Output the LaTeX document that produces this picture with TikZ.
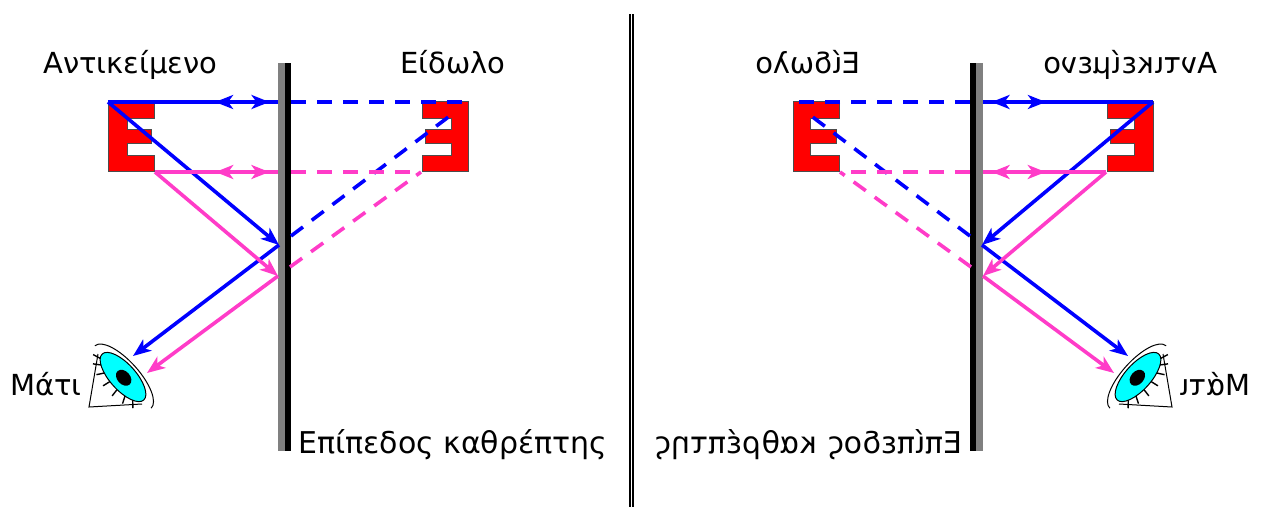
\documentclass[tikz,border=0pt]{standalone}
\usepackage{fontspec}
\setmainfont{DejaVu Sans}
\usetikzlibrary{arrows.meta,decorations.markings}

\definecolor{raypink}{RGB}{255,60,200}
\definecolor{eyecyan}{RGB}{0,255,255}

\tikzset{
  >={Stealth[length=18pt,width=14pt,inset=5pt]},
  ray/.style={line width=3.6pt},
  dashray/.style={line width=3.6pt, dash pattern=on 15pt off 11pt},
  twoway/.style 2 args={postaction={decorate},
    decoration={markings,
      mark=at position #1 with {\arrowreversed{>}},
      mark=at position #2 with {\arrow{>}}}},
  letter/.style={fill=red, draw=black!70, line width=0.9pt},
  txt/.style={inner sep=0pt, anchor=base west, font=\fontsize{29}{34}\selectfont},
}

% one half of the picture, #1 = prefix of the names
\newcommand{\mirrorhalf}[1]{%
  % mirror
  \fill[gray] (278,63) rectangle (285,451);
  \fill[black] (285,63) rectangle (291,451);
  % object and image
  \draw[letter] (108,101) -- (154,101) -- (154,118) -- (127,118) -- (127,129) -- (151,129)
    -- (151,143) -- (127,143) -- (127,155) -- (154,155) -- (154,171) -- (108,171) -- cycle;
  \draw[letter] (468,101) -- (422,101) -- (422,118) -- (451,118) -- (451,129) -- (425,129)
    -- (425,143) -- (451,143) -- (451,155) -- (422,155) -- (422,171) -- (468,171) -- cycle;
  % eye
  \begin{scope}[shift={(123,377)}, rotate=-48]
    \draw[fill=eyecyan, line width=1pt] (0,0) ellipse [x radius=31, y radius=13];
    \fill (1,0) ellipse [x radius=9, y radius=6.5];
    \draw[line width=1pt] (-42,0) arc [start angle=180, end angle=360, x radius=42, y radius=16];
    \foreach \a in {160,140,...,40}
      \draw[line width=1.4pt] ({31*cos(\a)},{13*sin(\a)}) -- ({39*cos(\a)},{21*sin(\a)});
  \end{scope}
  \draw[line width=1pt] (98,354) -- (89,407) -- (142,404);
  % points of the rays
  \coordinate (#1objtop) at (108,102);
  \coordinate (#1objbot) at (155,172);
  \coordinate (#1mtop) at (278,102);
  \coordinate (#1mbot) at (278,172);
  \coordinate (#1btop) at (291,102);
  \coordinate (#1bbot) at (291,172);
  \coordinate (#1hitB) at (279,245);
  \coordinate (#1hitP) at (278,276);
  \coordinate (#1eyeB) at (133,356);
  \coordinate (#1eyeP) at (147,373);
  \coordinate (#1backB) at (291,236);
  \coordinate (#1backP) at (290,267);
  \coordinate (#1imgtop) at (468,102);
  \coordinate (#1imgB) at (455,112);
  \coordinate (#1imgbot) at (421,172);
  % blue rays
  \draw[ray, blue, twoway={0.63}{0.95}] (#1objtop) -- (#1mtop);
  \draw[dashray, blue] (#1btop) -- (#1imgtop);
  \draw[ray, blue, ->] (#1objtop) -- (#1hitB);
  \draw[ray, blue, ->] (#1hitB) -- (#1eyeB);
  \draw[dashray, blue] (#1backB) -- (#1imgB);
  % pink rays
  \draw[ray, raypink, twoway={0.49}{0.93}] (#1objbot) -- (#1mbot);
  \draw[dashray, raypink] (#1bbot) -- (#1imgbot);
  \draw[ray, raypink, ->] (#1objbot) -- (#1hitP);
  \draw[ray, raypink, ->] (#1hitP) -- (#1eyeP);
  \draw[dashray, raypink] (#1backP) -- (#1imgbot);
  % labels
  \node[txt] (#1objlabel) at (43,73) {Αντικείμενο};
  \node[txt] (#1imglabel) at (400,73) {Είδωλο};
  \node[txt] (#1eyelabel) at (10,395) {Μάτι};
  \node[txt, font=\fontsize{30}{35}\selectfont] (#1mirlabel) at (298,453) {Επίπεδος καθρέπτης};
}

\begin{document}
\begin{tikzpicture}[x=1pt, y=-1pt]
  \useasboundingbox (0,0) rectangle (1262,507);
  % divider
  \fill[black] (629,14) rectangle (631,507);
  \fill[black] (632,14) rectangle (634,507);
  \mirrorhalf{L}
  \begin{scope}[xshift=1261pt, xscale=-1, transform shape]
    \mirrorhalf{R}
  \end{scope}
\end{tikzpicture}
\end{document}
